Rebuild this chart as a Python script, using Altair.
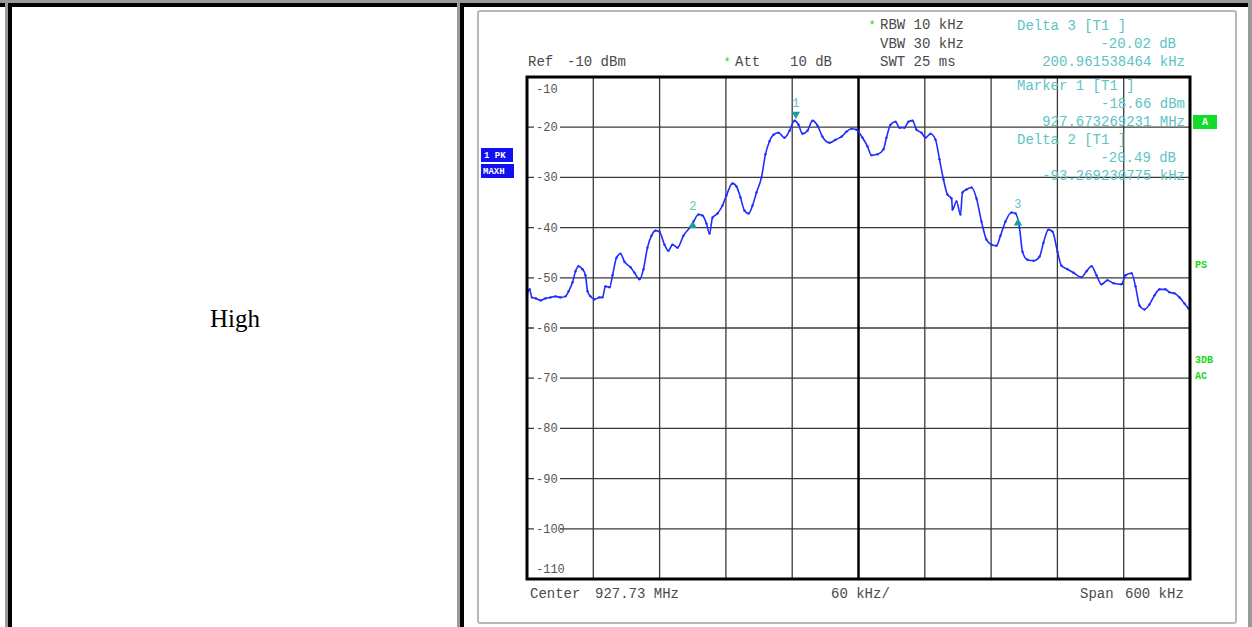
import altair as alt
import pandas as pd

# ---------------- data ----------------
# trace: frequency offset from centre (kHz) and level (dBm)
freq_khz = [-300.0, -297.6, -295.6, -292.0, -287.7, -283.2, -278.7, -274.2, -269.7, -265.2,
            -262.4, -258.8, -256.1, -253.4, -249.8, -247.1, -245.2, -242.5, -238.9, -234.4,
            -231.7, -229.0, -225.3, -222.6, -219.0, -215.4, -211.8, -206.3, -202.7, -198.2,
            -194.6, -191.0, -187.3, -183.7, -180.1, -175.6, -172.0, -168.3, -163.8, -158.4,
            -152.0, -149.3, -144.8, -141.2, -137.6, -134.8, -132.1, -127.6, -123.1, -119.5,
            -114.0, -110.4, -106.8, -103.2, -99.5, -95.9, -92.3, -87.8, -84.2, -80.5,
            -76.9, -72.4, -67.0, -62.4, -57.9, -54.3, -50.7, -46.2, -41.6, -37.1,
            -32.6, -26.2, -20.8, -15.4, -10.9, -6.3, -1.8, 3.6, 8.1, 11.8,
            17.2, 22.6, 25.3, 29.0, 33.5, 37.1, 41.6, 45.2, 48.9, 52.5,
            57.0, 60.6, 65.2, 69.7, 73.3, 76.9, 80.5, 84.2, 85.1, 88.7,
            92.3, 94.1, 97.7, 102.3, 106.8, 111.3, 115.8, 120.4, 124.9, 128.5,
            133.0, 138.5, 142.1, 145.7, 148.4, 152.9, 158.4, 163.8, 167.4, 171.9,
            175.6, 180.1, 183.7, 189.1, 194.6, 201.8, 206.3, 210.9, 215.4, 219.9,
            225.3, 230.8, 238.0, 241.6, 247.1, 250.7, 254.3, 258.8, 263.3, 267.9,
            272.4, 277.8, 281.4, 285.9, 290.5, 295.0, 298.6]
level_dbm = [-53.3, -52.3, -53.9, -54.1, -54.5, -54.1, -53.9, -53.7, -53.9, -53.7,
             -52.7, -50.9, -48.7, -47.7, -48.3, -49.5, -52.7, -53.7, -54.3, -53.9,
             -53.9, -51.7, -51.9, -49.5, -46.0, -45.2, -46.8, -47.9, -49.0, -50.3,
             -48.3, -44.0, -41.6, -40.6, -40.8, -43.4, -44.6, -43.4, -44.0, -41.6,
             -39.8, -38.8, -37.4, -37.6, -39.2, -41.2, -38.0, -37.2, -35.6, -33.6,
             -31.2, -31.8, -34.0, -36.6, -37.2, -35.6, -33.0, -30.0, -25.4, -22.8,
             -21.5, -21.1, -22.1, -20.7, -18.7, -19.5, -21.3, -20.7, -18.7, -19.7,
             -21.9, -23.1, -22.5, -21.9, -20.9, -20.3, -20.5, -22.1, -23.8, -25.6,
             -25.4, -24.4, -22.1, -19.5, -18.9, -20.1, -20.1, -18.9, -18.7, -20.5,
             -21.1, -22.1, -21.3, -22.5, -26.4, -30.4, -33.4, -34.2, -36.4, -34.8,
             -37.4, -33.0, -32.4, -32.0, -34.2, -38.8, -42.4, -43.4, -43.6, -41.6,
             -38.8, -37.0, -37.2, -40.0, -44.8, -46.4, -46.6, -45.8, -43.0, -40.4,
             -40.8, -44.8, -47.6, -48.3, -49.0, -49.9, -48.7, -47.7, -49.5, -51.3,
             -50.5, -51.1, -51.3, -49.5, -49.1, -51.7, -55.5, -56.3, -55.3, -53.5,
             -52.3, -52.3, -52.9, -53.1, -53.9, -55.1, -56.1]

grid_db = [-20, -30, -40, -50, -60, -70, -80, -90, -100]
grid_khz = [-240, -180, -120, -60, 60, 120, 180, 240]
ytick_mid = [-20, -30, -40, -50, -60, -70, -80, -90, -100]
ytick_top = [-10]
ytick_bottom = [-110]

marker_ids = ["1", "2", "3"]
marker_khz = [-56.7, -150.0, 144.3]
marker_dbm = [-18.66, -39.15, -38.68]
marker_dir = ["down", "up", "up"]

# ---------------- layout ----------------
L, T = 527, 77          # plot-area origin in the page
W, H = 663, 502         # plot-area size
MONO = "Liberation Mono"
CYAN = "#5cc4c4"
TEAL = "#1e9c9c"
DARK = "#4a4a4a"
GREEN = "#18d818"
BLUE = "#1010f0"
TRACE = "#1f2cff"

one = alt.Data(values=[{"k": 0}])
xs = alt.Scale(domain=[-300, 300], nice=False, zero=False)
ys = alt.Scale(domain=[-110, -10], nice=False, zero=False)


def box(x0, y0, x1, y1, fill="white", stroke=None, sw=0, r=0, fo=1):
    kw = dict(fill=fill, fillOpacity=fo, cornerRadius=r)
    if stroke:
        kw.update(stroke=stroke, strokeWidth=sw)
    else:
        kw.update(strokeWidth=0)
    return alt.Chart(one).mark_rect(**kw).encode(
        x=alt.value(x0 - L), x2=alt.value(x1 - L),
        y=alt.value(y0 - T), y2=alt.value(y1 - T))


def label(px, py, s, color=DARK, size=14, align="left", font=MONO, weight="normal"):
    return alt.Chart(one).mark_text(
        text=s, align=align, baseline="middle", font=font, fontSize=size,
        fontWeight=weight, color=color).encode(
        x=alt.value(px - L), y=alt.value(py - T))


layers = []
# page frame / table cells
layers += [
    box(0, 0, 1252, 3, fill="#9a9a9a"),
    box(0, 3, 1252, 7, fill="black"),
    box(5, 3, 8, 627, fill="#9a9a9a"),
    box(8, 3, 12, 627, fill="black"),
    box(457, 3, 460, 627, fill="#9a9a9a"),
    box(460, 3, 464, 627, fill="black"),
    box(1248, 3, 1252, 627, fill="#9a9a9a"),
    box(478, 11, 1236, 623, fill="white", stroke="#b8b8b8", sw=2, r=2),
    label(235, 319, "High", color="black", size=25, align="center",
          font="Liberation Serif"),
]

# grid
hgrid = alt.Chart(pd.DataFrame({"db": grid_db})).mark_rule(
    color="#3a3a3a", strokeWidth=1.3).encode(
    y=alt.Y("db:Q", scale=ys, axis=None), x=alt.value(0), x2=alt.value(W))
vgrid = alt.Chart(pd.DataFrame({"khz": grid_khz})).mark_rule(
    color="#3a3a3a", strokeWidth=1.3).encode(
    x=alt.X("khz:Q", scale=xs, axis=None), y=alt.value(0), y2=alt.value(H))
cgrid = alt.Chart(pd.DataFrame({"khz": [0]})).mark_rule(
    color="black", strokeWidth=2.5).encode(
    x=alt.X("khz:Q", scale=xs, axis=None), y=alt.value(0), y2=alt.value(H))
layers += [hgrid, vgrid, cgrid]

# y tick labels (inside the plot, on a white patch)
tick_df = pd.DataFrame({"db": ytick_mid})
tick_bg = alt.Chart(tick_df).transform_calculate(
    lo="datum.db - 1.3", hi="datum.db + 1.3").mark_rect(
    fill="white", strokeWidth=0).encode(
    y=alt.Y("lo:Q", scale=ys, axis=None), y2="hi:Q",
    x=alt.value(7), x2=alt.value(33))
tick_txt = alt.Chart(tick_df).transform_calculate(
    lab="'-' + (-datum.db)").mark_text(
    align="left", baseline="middle", font=MONO, fontSize=12, color="#555").encode(
    y=alt.Y("db:Q", scale=ys, axis=None), x=alt.value(9), text="lab:N")
tick_top = alt.Chart(pd.DataFrame({"db": ytick_top})).transform_calculate(
    lab="'-' + (-datum.db)").mark_text(
    align="left", baseline="middle", font=MONO, fontSize=12, color="#555", dy=12).encode(
    y=alt.Y("db:Q", scale=ys, axis=None), x=alt.value(9), text="lab:N")
tick_bot = alt.Chart(pd.DataFrame({"db": ytick_bottom})).transform_calculate(
    lab="'-' + (-datum.db)").mark_text(
    align="left", baseline="middle", font=MONO, fontSize=12, color="#555", dy=-10).encode(
    y=alt.Y("db:Q", scale=ys, axis=None), x=alt.value(9), text="lab:N")
layers += [tick_bg, tick_txt, tick_top, tick_bot]

# trace
trace_df = pd.DataFrame({"khz": freq_khz, "dbm": level_dbm})
trace = alt.Chart(trace_df).mark_line(
    color=TRACE, strokeWidth=1.6, interpolate="monotone").encode(
    x=alt.X("khz:Q", scale=xs, axis=None),
    y=alt.Y("dbm:Q", scale=ys, axis=None))
trace_pts = alt.Chart(trace_df).mark_point(
    color=TRACE, size=6, filled=True, opacity=0.9).encode(
    x=alt.X("khz:Q", scale=xs, axis=None),
    y=alt.Y("dbm:Q", scale=ys, axis=None))
layers += [trace, trace_pts]

# markers
mk_df = pd.DataFrame({"id": marker_ids, "khz": marker_khz,
                      "dbm": marker_dbm, "dir": marker_dir})
mk_down = alt.Chart(mk_df).transform_filter("datum.dir == 'down'").mark_point(
    shape="triangle-down", filled=True, color=TEAL, size=70, opacity=1, yOffset=-5).encode(
    x=alt.X("khz:Q", scale=xs, axis=None), y=alt.Y("dbm:Q", scale=ys, axis=None))
mk_up = alt.Chart(mk_df).transform_filter("datum.dir == 'up'").mark_point(
    shape="triangle-up", filled=True, color=TEAL, size=70, opacity=1, yOffset=1).encode(
    x=alt.X("khz:Q", scale=xs, axis=None), y=alt.Y("dbm:Q", scale=ys, axis=None))
mk_txt = alt.Chart(mk_df).mark_text(
    font=MONO, fontSize=12, color=CYAN, dy=-17, baseline="middle").encode(
    x=alt.X("khz:Q", scale=xs, axis=None), y=alt.Y("dbm:Q", scale=ys, axis=None),
    text="id:N")
layers += [mk_down, mk_up, mk_txt]

# plot frame
layers.append(box(527, 77, 1190, 579, fill="white", fo=0, stroke="black", sw=3))

# header / footer texts
layers += [
    label(528, 62, "Ref"), label(567, 62, "-10 dBm"),
    label(727, 62, "*", color=GREEN, size=12, align="center"),
    label(735, 62, "Att"), label(790, 62, "10 dB"),
    label(872, 25, "*", color=GREEN, size=12, align="center"),
    label(880, 25, "RBW 10 kHz"),
    label(880, 44, "VBW 30 kHz"),
    label(880, 62, "SWT 25 ms"),
    label(1017, 26, "Delta 3 [T1 ]", color=CYAN),
    label(1176, 44, "-20.02 dB", color=CYAN, align="right"),
    label(1185, 62, "200.961538464 kHz", color=CYAN, align="right"),
    label(1017, 86, "Marker 1 [T1 ]", color=CYAN),
    label(1185, 104, "-18.66 dBm", color=CYAN, align="right"),
    label(1185, 122, "927.673269231 MHz", color=CYAN, align="right"),
    label(1017, 140, "Delta 2 [T1 ]", color=CYAN),
    label(1176, 158, "-20.49 dB", color=CYAN, align="right"),
    label(1185, 176, "-93.269230775 kHz", color=CYAN, align="right"),
    label(530, 594, "Center"), label(595, 594, "927.73 MHz"),
    label(831, 594, "60 kHz/"),
    label(1080, 594, "Span"), label(1125, 594, "600 kHz"),
]

# side badges
layers += [
    box(481, 148, 513, 162, fill=BLUE),
    label(484, 155, "1 PK", color="white", size=9, weight="bold"),
    box(481, 164, 514, 178, fill=BLUE),
    label(483, 171, "MAXH", color="white", size=9, weight="bold"),
    box(1193, 115, 1217, 129, fill="#12dc2a"),
    label(1205, 122, "A", color="white", size=10, align="center", weight="bold"),
    label(1195, 265, "PS", color=GREEN, size=10, weight="bold"),
    label(1195, 360, "3DB", color=GREEN, size=10, weight="bold"),
    label(1195, 376, "AC", color=GREEN, size=10, weight="bold"),
]

chart = alt.layer(*layers).properties(
    width=W, height=H,
    autosize=alt.AutoSizeParams(type="none"),
    padding={"left": L, "top": T, "right": 1252 - L - W, "bottom": 627 - T - H},
    background="white",
).configure_view(stroke=None)

chart.save("out.html", embed_options={"renderer": "svg", "actions": False})
